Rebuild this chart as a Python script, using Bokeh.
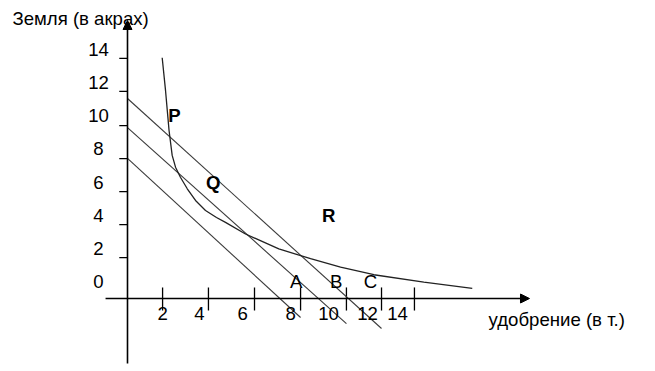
from bokeh.plotting import figure
from bokeh.models import Range1d, Arrow, NormalHead
from bokeh.core.properties import value
from bokeh.embed import file_html
from bokeh.resources import INLINE

# ---- data ----
# isoquant curve (fertilizer, land)
curve_x = [1.77, 1.94, 2.06, 2.12, 2.28, 2.45, 2.70, 3.05, 3.47, 3.98, 4.54, 5.00,
           6.02, 7.72, 9.34, 10.87, 12.57, 15.12, 17.59]
curve_y = [14.59, 12.61, 10.99, 10.18, 8.67, 7.96, 7.35, 6.65, 5.94, 5.33, 4.91, 4.61,
           3.91, 3.01, 2.41, 1.90, 1.44, 0.99, 0.62]

# three isocost lines: start on land axis, end below fertilizer axis
iso_x0 = [0.0, 0.0, 0.0]
iso_y0 = [8.49, 10.36, 12.12]
iso_x1 = [8.83, 11.17, 12.96]
iso_y1 = [-1.15, -1.52, -1.82]

# axis ticks and tick labels (as drawn)
x_ticks = [1.79, 4.13, 6.48, 8.83, 11.17, 12.96, 14.64]
x_tick_labels = ["2", "4", "6", "8", "10", "12", "14"]
x_label_pos = [1.79, 3.67, 5.87, 8.32, 10.26, 12.25, 13.78]

y_ticks = [2.48, 4.48, 6.48, 8.48, 10.48, 12.55, 14.55]
y_tick_labels = ["0", "2", "4", "6", "8", "10", "12", "14"]
y_label_pos = [1.03, 3.03, 5.03, 7.03, 9.09, 11.09, 13.09, 15.09]

# point labels
abc_text = ["A", "B", "C"]
abc_x = [8.61, 10.65, 12.40]
abc_y = [1.05, 1.05, 1.05]

pqr_text = ["P", "Q", "R"]
pqr_x = [2.40, 4.37, 10.27]
pqr_y = [11.09, 7.05, 5.03]

y_title = "Земля (в акрах)"
x_title = "удобрение (в т.)"

FONT = value("Liberation Sans")
FS = "18.6px"

p = figure(width=647, height=365, output_backend="svg", toolbar_location=None,
           x_range=Range1d(-6.4796, 26.5306), y_range=Range1d(-4.0606, 18.0606),
           x_axis_location=None, y_axis_location=None, min_border=0,
           outline_line_color=None)
p.xgrid.visible = False
p.ygrid.visible = False

# axes with arrows
p.add_layout(Arrow(end=NormalHead(size=9, fill_color="black", line_color="black"),
                   x_start=0, y_start=-3.94, x_end=0, y_end=16.85,
                   line_width=1.6, line_color="black"))
p.add_layout(Arrow(end=NormalHead(size=9, fill_color="black", line_color="black"),
                   x_start=-1.12, y_start=0, x_end=20.51, y_end=0,
                   line_width=1.6, line_color="black"))

# ticks
p.segment(x0=x_ticks, y0=[0.67] * len(x_ticks), x1=x_ticks, y1=[-0.73] * len(x_ticks),
          line_color="black", line_width=1.3)
p.segment(x0=[-0.42] * len(y_ticks), y0=y_ticks, x1=[0] * len(y_ticks), y1=y_ticks,
          line_color="black", line_width=1.3)

# isocost lines
p.segment(x0=iso_x0, y0=iso_y0, x1=iso_x1, y1=iso_y1, line_color="#3a3a3a", line_width=1.1)

# isoquant
p.line(curve_x, curve_y, line_color="#222222", line_width=1.3)

# tick labels
p.text(x=x_label_pos, y=[-0.91] * len(x_label_pos), text=x_tick_labels,
       text_align="center", text_baseline="middle", text_font=FONT,
       text_font_size=FS, text_color="black")
p.text(x=[-1.48] * len(y_label_pos), y=y_label_pos, text=y_tick_labels,
       text_align="center", text_baseline="middle", text_font=FONT,
       text_font_size=FS, text_color="black")

# point labels
p.text(x=abc_x, y=abc_y, text=abc_text, text_align="center", text_baseline="middle",
       text_font=FONT, text_font_size=FS, text_color="black")
p.text(x=pqr_x, y=pqr_y, text=pqr_text, text_align="center", text_baseline="middle",
       text_font=FONT, text_font_size=FS, text_font_style="bold", text_color="black")

# axis titles
p.text(x=[-5.87], y=[16.95], text=[y_title], text_align="left", text_baseline="middle",
       text_font=FONT, text_font_size=FS, text_color="black")
p.text(x=[18.42], y=[-1.27], text=[x_title], text_align="left", text_baseline="middle",
       text_font=FONT, text_font_size=FS, text_color="black")

open("out.html", "w").write(file_html(p, INLINE))
